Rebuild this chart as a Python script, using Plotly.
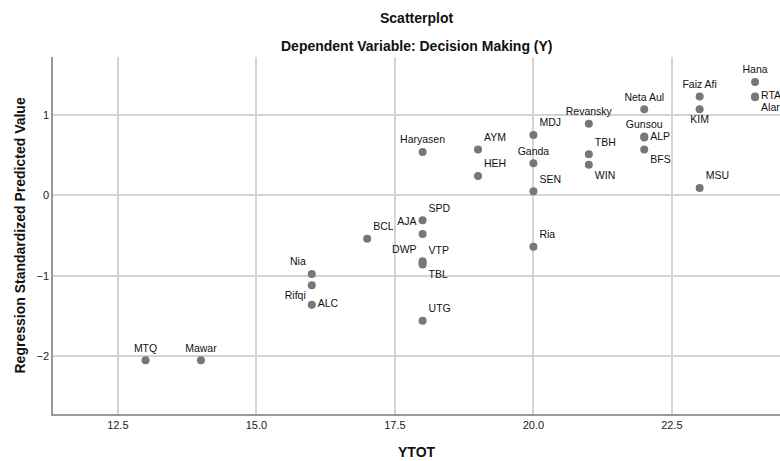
import plotly.graph_objects as go

names = ["Haryasen", "AYM", "HEH", "MDJ", "Ganda", "SEN", "SPD", "AJA", "Ria",
         "Revansky", "TBH", "WIN", "Neta Aul", "Gunsou", "ALP", "BFS",
         "Faiz Afi", "KIM", "MSU", "Hana", "RTA", "Alaric",
         "BCL", "DWP", "VTP", "TBL", "Nia", "Rifqi", "ALC", "UTG", "MTQ", "Mawar"]
ytot = [18, 19, 19, 20, 20, 20, 18, 18, 20,
        21, 21, 21, 22, 22, 22, 22,
        23, 23, 23, 24, 24, 24,
        17, 18, 18, 18, 16, 16, 16, 18, 13, 14]
zpred = [0.54, 0.57, 0.24, 0.75, 0.40, 0.05, -0.31, -0.48, -0.64,
         0.89, 0.51, 0.38, 1.07, 0.73, 0.72, 0.57,
         1.23, 1.07, 0.09, 1.41, 1.23, 1.22,
         -0.54, -0.82, -0.84, -0.86, -0.98, -1.12, -1.36, -1.56, -2.05, -2.05]
positions = ["top center", "top right", "top right", "top right", "top center", "top right",
             "top right", "top left", "top right",
             "top center", "top right", "bottom right", "top center", "top center",
             "middle right", "bottom right",
             "top center", "bottom center", "top right", "top center", "middle right", "bottom right",
             "top right", "top left", "top right", "bottom right", "top left", "bottom left",
             "middle right", "top right", "top center", "top center"]

x_ticks = [12.5, 15.0, 17.5, 20.0, 22.5]
y_ticks = [-2, -1, 0, 1]

font = "Liberation Sans, Arial, sans-serif"

fig = go.Figure()
fig.add_trace(go.Scatter(
    x=ytot, y=zpred, mode="markers+text", text=names, textposition=positions,
    marker=dict(color="#777777", size=8),
    textfont=dict(family=font, size=10.5, color="#111111"),
    hoverinfo="skip", showlegend=False,
))

fig.update_layout(
    width=780, height=461,
    margin=dict(l=53, r=0, t=57, b=47, autoexpand=False),
    paper_bgcolor="white", plot_bgcolor="white",
    font=dict(family=font, color="#222222"),
    xaxis=dict(range=[11.33, 24.45], tickvals=x_ticks, ticktext=[f"{v:.1f}" for v in x_ticks],
               showgrid=True, gridcolor="#d4d4d4", gridwidth=1.5, zeroline=False,
               showline=True, linecolor="#999999", linewidth=1.5, ticks="",
               tickfont=dict(size=11, color="#222222"), automargin=False),
    yaxis=dict(range=[-2.72, 1.72], tickvals=y_ticks,
               showgrid=True, gridcolor="#d4d4d4", gridwidth=1.5, zeroline=False,
               showline=True, linecolor="#999999", linewidth=1.5, ticks="",
               tickfont=dict(size=11, color="#222222"), automargin=False),
    annotations=[
        dict(text="<b>Scatterplot</b>", xref="paper", yref="paper", x=0.5, y=1.109,
             showarrow=False, font=dict(size=14, color="#111111"), yanchor="middle"),
        dict(text="<b>Dependent Variable: Decision Making (Y)</b>", xref="paper", yref="paper",
             x=0.5, y=1.031, showarrow=False, font=dict(size=14, color="#111111"), yanchor="middle"),
        dict(text="<b>YTOT</b>", xref="paper", yref="paper", x=0.5, y=-0.106,
             showarrow=False, font=dict(size=14, color="#111111"), yanchor="middle"),
        dict(text="<b>Regression Standardized Predicted Value</b>", xref="paper", yref="paper",
             x=-0.0454, y=0.5, textangle=-90, showarrow=False,
             font=dict(size=14, color="#111111"), xanchor="center", yanchor="middle"),
    ],
)

fig.write_html("out.html", config={"displayModeBar": False},
               post_script="document.body.style.margin='0px';document.body.style.overflow='hidden';")
